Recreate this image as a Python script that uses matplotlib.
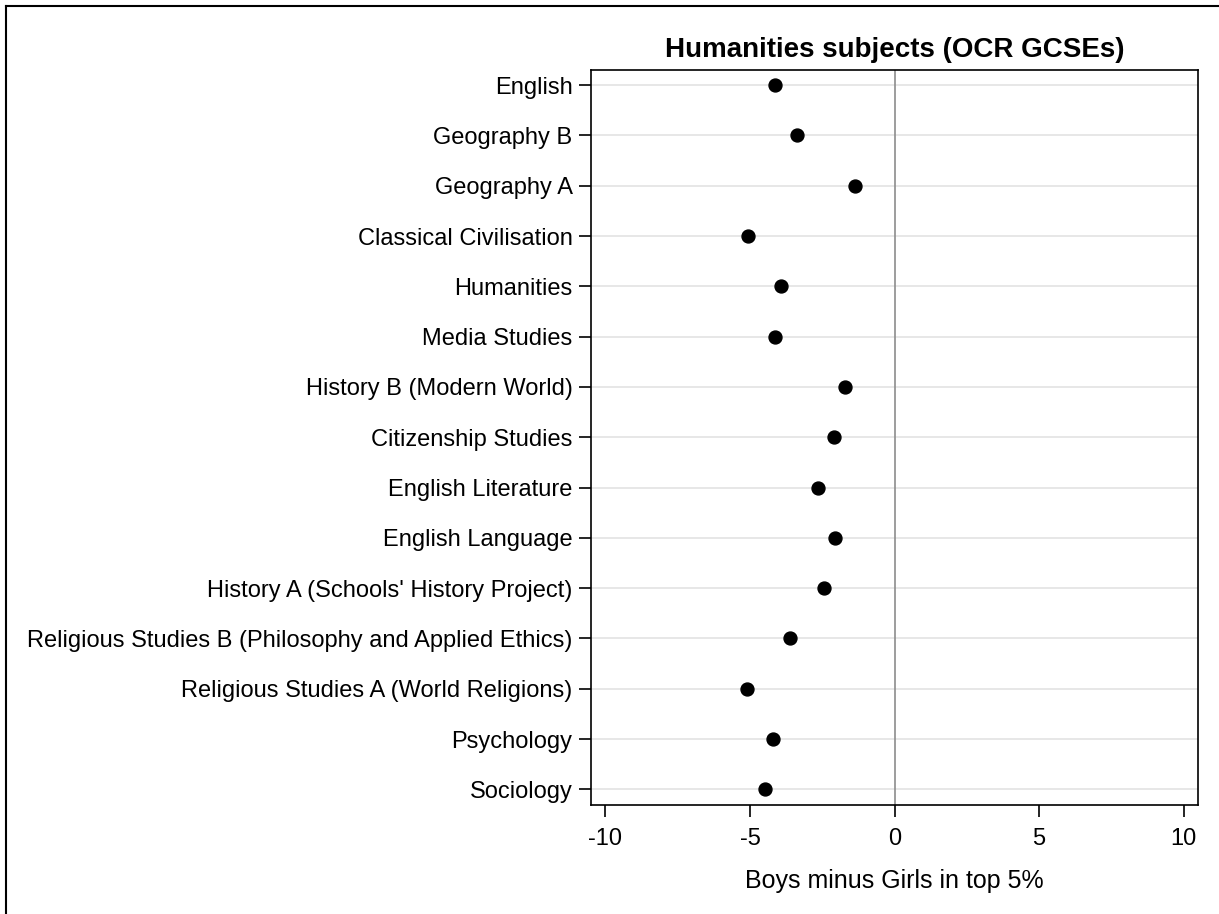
import matplotlib
matplotlib.use("Agg")
import matplotlib.pyplot as plt
from matplotlib.lines import Line2D

plt.rcParams['font.family'] = ['Liberation Sans', 'DejaVu Sans']

subjects = [
    "English",
    "Geography B",
    "Geography A",
    "Classical Civilisation",
    "Humanities",
    "Media Studies",
    "History B (Modern World)",
    "Citizenship Studies",
    "English Literature",
    "English Language",
    "History A (Schools' History Project)",
    "Religious Studies B (Philosophy and Applied Ethics)",
    "Religious Studies A (World Religions)",
    "Psychology",
    "Sociology",
]
diff = [-4.15, -3.38, -1.38, -5.06, -3.94, -4.15, -1.72, -2.10, -2.65, -2.06,
        -2.44, -3.62, -5.12, -4.22, -4.48]
xticks = [-10, -5, 0, 5, 10]

W, H = 1219, 914
fig = plt.figure(figsize=(W / 100, H / 100), dpi=100)
ax = fig.add_axes([591 / W, 1 - 804.5 / H, (1198 - 591) / W, (804.5 - 70) / H])

ypos = list(range(len(subjects)))
for y in ypos:
    ax.axhline(y, color='#e3e3e3', lw=1.2, zorder=0)
ax.axvline(0, color='#8c8c8c', lw=1.2, zorder=1)
ax.plot(diff, ypos, 'o', color='black', markersize=9.3, zorder=3)

ax.set_xlim(-10.5, 10.5)
ax.set_ylim(len(subjects) - 1 + 0.30, -0.30)
ax.set_yticks(ypos)
ax.set_yticklabels(subjects, fontsize=17)
ax.set_xticks(xticks)
ax.set_xticklabels([str(v) for v in xticks], fontsize=17)
ax.tick_params(axis='both', direction='out', length=8.3, width=1.2, color='black')
ax.tick_params(axis='x', pad=8.5)
ax.tick_params(axis='y', pad=5)
for s in ax.spines.values():
    s.set_linewidth(1.2)
    s.set_color('black')

ax.set_xlabel("Boys minus Girls in top 5%", fontsize=18, labelpad=14)
ax.set_title("Humanities subjects (OCR GCSEs)", fontsize=20, fontweight='bold', pad=9.5)

# outer figure border (top and left visible)
fig.add_artist(Line2D([5.5 / W, 5.5 / W], [0, 1 - 5.5 / H], transform=fig.transFigure, color='black', lw=1.5))
fig.add_artist(Line2D([5.5 / W, 1], [1 - 5.5 / H, 1 - 5.5 / H], transform=fig.transFigure, color='black', lw=1.5))

fig.savefig("out.png", dpi=100)
